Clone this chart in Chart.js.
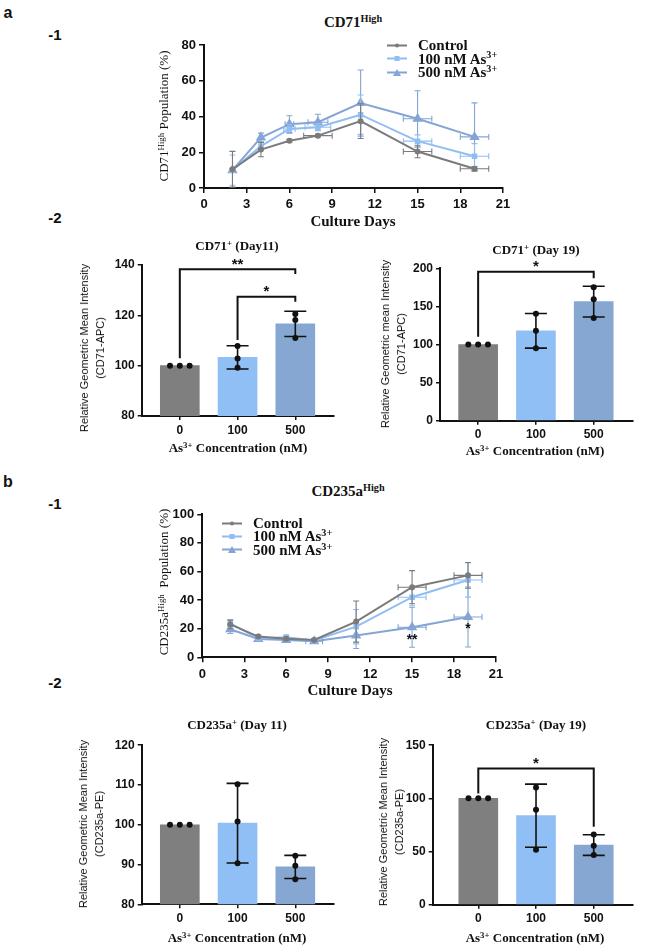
<!DOCTYPE html>
<html>
<head>
<meta charset="utf-8">
<script src="https://cdn.jsdelivr.net/npm/chart.js@4.4.1/dist/chart.umd.min.js"></script>
<style>
  body { margin: 0; background: #fff; }
  #page { position: relative; width: 660px; height: 951px; overflow: hidden; background: #fff; }
  canvas { position: absolute; }
  .t { position: absolute; white-space: nowrap; line-height: 1; transform: translate(-50%, -50%); color: #111; z-index: 2; }
  .serif { font-family: "Liberation Serif", "Times New Roman", serif; }
  .sans { font-family: "Liberation Sans", Arial, sans-serif; }
  .b { font-weight: bold; }
  .rot { transform: translate(-50%, -50%) rotate(-90deg); text-align: center; }
  sup { font-size: 0.68em; vertical-align: 0; position: relative; top: -0.5em; line-height: 0; }
  .legend { position: absolute; font-family: "Liberation Serif", "Times New Roman", serif; font-weight: bold; font-size: 15px; color: #111; z-index: 2; }
  .legend .row { position: absolute; left: 0; white-space: nowrap; transform: translateY(-50%); display: flex; align-items: center; line-height: 1; }
  .legend .sw { position: relative; width: 20px; height: 10px; margin-right: 11px; }
  .legend .ln { position: absolute; left: 0; right: 0; top: 4px; height: 2px; }
  .legend .mk { position: absolute; left: 50%; top: 5px; transform: translate(-50%, -50%); }
</style>
</head>
<body>
<div id="page">
  <canvas id="a1" width="390" height="190" style="left:130px;top:30px"></canvas>
  <canvas id="a2l" width="290" height="200" style="left:60px;top:250px"></canvas>
  <canvas id="a2r" width="290" height="200" style="left:360px;top:250px"></canvas>
  <canvas id="b1" width="390" height="190" style="left:130px;top:500px"></canvas>
  <canvas id="b2l" width="290" height="200" style="left:60px;top:735px"></canvas>
  <canvas id="b2r" width="290" height="200" style="left:360px;top:735px"></canvas>

  <!-- panel labels -->
  <div class="t sans b" style="left:8px;top:13px;font-size:16px">a</div>
  <div class="t sans b" style="left:55px;top:34px;font-size:15px">-1</div>
  <div class="t sans b" style="left:55px;top:217px;font-size:15px">-2</div>
  <div class="t sans b" style="left:8px;top:482px;font-size:16px">b</div>
  <div class="t sans b" style="left:55px;top:503px;font-size:15px">-1</div>
  <div class="t sans b" style="left:55px;top:682px;font-size:15px">-2</div>

  <!-- a-1 -->
  <div class="t serif b" style="left:353px;top:22px;font-size:15px">CD71<sup>High</sup></div>
  <div class="t serif b" style="left:353px;top:221px;font-size:15px">Culture Days</div>
  <div class="t serif rot" style="left:163px;top:116px;font-size:13px">CD71<sup>High</sup> Population (%)</div>
  <div class="legend" id="legA" style="left:387px;top:45px"></div>

  <!-- a-2 -->
  <div class="t serif b" style="left:237px;top:245px;font-size:13px">CD71<sup>+</sup> (Day11)</div>
  <div class="t sans rot" style="left:91.5px;top:348px;font-size:11px;line-height:16px">Relative Geometric Mean Intensity<br>(CD71-APC)</div>
  <div class="t serif b" style="left:238px;top:447px;font-size:13px">As<sup>3+</sup> Concentration (nM)</div>

  <div class="t serif b" style="left:536px;top:249px;font-size:13px">CD71<sup>+</sup> (Day 19)</div>
  <div class="t sans rot" style="left:393px;top:344px;font-size:11px;line-height:16px">Relative Geometric mean Intensity<br>(CD71-APC)</div>
  <div class="t serif b" style="left:535px;top:450px;font-size:13px">As<sup>3+</sup> Concentration (nM)</div>

  <!-- b-1 -->
  <div class="t serif b" style="left:348px;top:491px;font-size:15px">CD235a<sup>High</sup></div>
  <div class="t serif b" style="left:350px;top:690px;font-size:15px">Culture Days</div>
  <div class="t serif rot" style="left:163px;top:582px;font-size:13px">CD235a<sup>High</sup>&nbsp; Population (%)</div>
  <div class="legend" id="legB" style="left:222px;top:523px"></div>

  <!-- b-2 -->
  <div class="t serif b" style="left:237px;top:724px;font-size:13px">CD235a<sup>+</sup> (Day 11)</div>
  <div class="t sans rot" style="left:91px;top:824px;font-size:11px;line-height:16px">Relative Geometric Mean Intensity<br>(CD235a-PE)</div>
  <div class="t serif b" style="left:237px;top:937px;font-size:13px">As<sup>3+</sup> Concentration (nM)</div>

  <div class="t serif b" style="left:536px;top:724px;font-size:13px">CD235a<sup>+</sup> (Day 19)</div>
  <div class="t sans rot" style="left:391px;top:822px;font-size:11px;line-height:16px">Relative Geometric Mean Intensity<br>(CD235a-PE)</div>
  <div class="t serif b" style="left:535px;top:937px;font-size:13px">As<sup>3+</sup> Concentration (nM)</div>
</div>

<script>
// --- Data ---
const days = [2, 4, 6, 8, 11, 15, 19];
const seriesNames = ['Control', '100 nM As3+', '500 nM As3+'];
const seriesColors = ['#7b7b7b', '#90bef3', '#84a5d5'];
const seriesMarkers = ['circle', 'rect', 'triangle'];

// CD71 high population (%)
const cd71Control = [10.5, 21.5, 26.4, 29.3, 37.4, 20.4, 10.8];
const cd71ControlErr = [10, 4, 0.8, 0.8, 9.7, 3.5, 1.2];
const cd71ControlXErr = [0, 0, 0, 1, 0, 1, 1];
const cd71As100 = [10, 23.4, 33, 34, 41, 26.2, 17.8];
const cd71As100Err = [8.5, 2, 2.5, 2, 11, 3.5, 7];
const cd71As100XErr = [0, 0, 0.4, 0.9, 0, 1, 1];
const cd71As500 = [10, 28.2, 35.7, 36.8, 47.5, 38.7, 28.6];
const cd71As500Err = [1, 2.5, 4.7, 4.5, 18.5, 15.7, 19];
const cd71As500XErr = [0, 0, 0.3, 0.7, 0, 1, 1];

// CD235a high population (%)
const cd235Control = [23, 14.5, 13, 12.1, 25, 49, 57.3];
const cd235ControlErr = [3, 1, 1, 1, 14.4, 11.6, 9];
const cd235ControlXErr = [0, 0, 0, 0, 0, 1, 1];
const cd235As100 = [23.8, 13.3, 14, 11.7, 21.4, 42, 54.1];
const cd235As100Err = [2.5, 1, 1.5, 1, 12, 6, 12];
const cd235As100XErr = [0, 0, 0, 0, 0, 1, 1];
const cd235As500 = [19.6, 12.8, 12.1, 11.2, 15.2, 21, 28.2];
const cd235As500Err = [3, 1, 1, 1, 9, 14, 21];
const cd235As500XErr = [0, 0, 0, 0.6, 0, 1, 1];
const cd235Stars = [{ x: 15, y: 15, label: '**' }, { x: 19, y: 22.6, label: '*' }];

// Bar panels: As3+ concentration (nM)
const concLabels = ['0', '100', '500'];
const barColors = ['#7f7f7f', '#8fbff5', '#87a7d3'];

const cd71D11Mean = [100, 103.3, 116.6];
const cd71D11Err = [0, 4.6, 5];
const cd71D11Pts = [[100, 100, 100], [107.8, 102.8, 99.2], [120.5, 118.1, 111]];
const cd71D11Sig = [
  { from: 0, to: 2, y: 138.3, leftEnd: 102.9, rightEnd: 136.4, label: '**' },
  { from: 1, to: 2, y: 127.4, leftEnd: 110.2, rightEnd: 125.4, label: '*' }
];

const cd71D19Mean = [100, 117.9, 156.3];
const cd71D19Err = [0, 22.7, 20.2];
const cd71D19Pts = [[100, 100, 100], [140.5, 118.2, 95], [175, 159.3, 134.8]];
const cd71D19Sig = [{ from: 0, to: 2, y: 195.6, leftEnd: 110.3, rightEnd: 186.9, label: '*' }];

const cd235D11Mean = [100, 100.4, 89.4];
const cd235D11Err = [0, 10, 2.9];
const cd235D11Pts = [[100, 100, 100], [110.2, 100.8, 90.3], [92.2, 89.7, 86.3]];
const cd235D11Sig = [];

const cd235D19Mean = [100, 83.7, 56.1];
const cd235D19Err = [0, 29.7, 9.7];
const cd235D19Pts = [[100, 100, 100], [110.2, 89.2, 51.7], [66.1, 55.4, 46.7]];
const cd235D19Sig = [{ from: 0, to: 2, y: 128, leftEnd: 104.6, rightEnd: 73.3, label: '*' }];

// --- Plugins ---
const errorBars = {
  id: 'errorBars',
  afterDatasetDraw(chart, args) {
    const ds = chart.data.datasets[args.index];
    if (!ds.errY) return;
    const ctx = chart.ctx, xs = chart.scales.x, ys = chart.scales.y;
    const cap = ds.capSize || 3;
    ctx.save();
    ctx.strokeStyle = ds.errColor || ds.borderColor;
    ctx.lineWidth = ds.errWidth || 1;
    ds.data.forEach((p, i) => {
      const px = xs.getPixelForValue(p.x), py = ys.getPixelForValue(p.y);
      const ey = ds.errY[i] || 0;
      const ex = ds.errX ? (ds.errX[i] || 0) : 0;
      ctx.beginPath();
      if (ey > 0) {
        const y1 = ys.getPixelForValue(p.y + ey), y2 = ys.getPixelForValue(p.y - ey);
        ctx.moveTo(px, y1); ctx.lineTo(px, y2);
        ctx.moveTo(px - cap, y1); ctx.lineTo(px + cap, y1);
        ctx.moveTo(px - cap, y2); ctx.lineTo(px + cap, y2);
      }
      if (ex > 0) {
        const x1 = xs.getPixelForValue(p.x - ex), x2 = xs.getPixelForValue(p.x + ex);
        ctx.moveTo(x1, py); ctx.lineTo(x2, py);
        ctx.moveTo(x1, py - cap); ctx.lineTo(x1, py + cap);
        ctx.moveTo(x2, py - cap); ctx.lineTo(x2, py + cap);
      }
      ctx.stroke();
    });
    ctx.restore();
  }
};
Chart.register(errorBars);

function bracketPlugin(items) {
  return {
    id: 'brackets',
    afterDraw(chart) {
      const ctx = chart.ctx, xs = chart.scales.x, ys = chart.scales.y;
      ctx.save();
      ctx.strokeStyle = '#111';
      ctx.fillStyle = '#111';
      ctx.lineWidth = 2;
      ctx.font = 'bold 15px "Liberation Sans", Arial, sans-serif';
      ctx.textAlign = 'center';
      items.forEach(b => {
        const x1 = xs.getPixelForValue(b.from), x2 = xs.getPixelForValue(b.to);
        const y = ys.getPixelForValue(b.y);
        ctx.beginPath();
        ctx.moveTo(x1, ys.getPixelForValue(b.leftEnd));
        ctx.lineTo(x1, y);
        ctx.lineTo(x2, y);
        ctx.lineTo(x2, ys.getPixelForValue(b.rightEnd));
        ctx.stroke();
        ctx.fillText(b.label, (x1 + x2) / 2, y - 0.5);
      });
      ctx.restore();
    }
  };
}

function starPlugin(items) {
  return {
    id: 'stars',
    afterDraw(chart) {
      const ctx = chart.ctx, xs = chart.scales.x, ys = chart.scales.y;
      ctx.save();
      ctx.fillStyle = '#111';
      ctx.font = 'bold 14px "Liberation Sans", Arial, sans-serif';
      ctx.textAlign = 'center';
      items.forEach(s => {
        ctx.fillText(s.label, xs.getPixelForValue(s.x), ys.getPixelForValue(s.y) + 8);
      });
      ctx.restore();
    }
  };
}

// --- Common axis styling ---
const tickFont = (size) => ({ family: '"Liberation Sans", Arial, sans-serif', weight: 'bold', size: size });
function axisStyle(size, tickLen) {
  return {
    offset: false,
    grid: { display: true, offset: false, drawOnChartArea: false, drawTicks: true, tickLength: tickLen, color: '#111', lineWidth: 1.5 },
    border: { display: true, color: '#111', width: 2 },
    ticks: { font: tickFont(size), color: '#111', maxRotation: 0, padding: 3 }
  };
}

function lineChart(id, yMax, series, stars, geom) {
  const datasets = series.map((s, k) => ({
    label: seriesNames[k],
    data: days.map((d, i) => ({ x: d, y: s.mean[i] })),
    errY: s.err,
    errX: s.xerr,
    capSize: 3,
    errWidth: 1.1,
    borderColor: seriesColors[k],
    backgroundColor: seriesColors[k],
    borderWidth: 2,
    pointStyle: seriesMarkers[k],
    pointRadius: [2, 2.5, 4][k],
    tension: 0
  }));
  const xs = axisStyle(13, 5), ys = axisStyle(13, 5);
  xs.ticks.padding = 4;
  xs.ticks.stepSize = 3;
  ys.ticks.stepSize = 20;
  new Chart(document.getElementById(id), {
    type: 'line',
    data: { datasets },
    options: {
      responsive: false,
      animation: false,
      events: [],
      layout: { padding: geom.pad },
      plugins: { legend: { display: false }, tooltip: { enabled: false } },
      scales: {
        x: Object.assign(xs, { type: 'linear', min: 0, max: 21, afterFit: s => { s.height = geom.xh; } }),
        y: Object.assign(ys, { min: 0, max: yMax, afterFit: s => { s.width = geom.yw; } })
      }
    },
    plugins: [starPlugin(stars)]
  });
}

function barChart(id, yMin, yMax, step, means, errs, pts, sig, geom) {
  const bars = means.map((m, i) => ({ x: i, y: m }));
  const dots = [];
  pts.forEach((group, i) => {
    group.forEach((v, k) => {
      const same = group.filter(u => u === v).length;
      const idx = group.slice(0, k).filter(u => u === v).length;
      const off = same > 1 ? (idx - (same - 1) / 2) * 0.17 : 0;
      dots.push({ x: i + off, y: v });
    });
  });
  const xs = axisStyle(12, 4), ys = axisStyle(12, 4);
  xs.ticks.callback = v => concLabels[v];
  ys.ticks.stepSize = step;
  new Chart(document.getElementById(id), {
    type: 'bar',
    data: {
      datasets: [
        { type: 'bar', data: bars, backgroundColor: barColors, barThickness: 39,
          errY: errs, errColor: '#111', errWidth: 1.6, capSize: 11, order: 2 },
        { type: 'scatter', data: dots, pointRadius: 3, backgroundColor: '#111', borderWidth: 0, order: 1 }
      ]
    },
    options: {
      responsive: false,
      animation: false,
      events: [],
      layout: { padding: geom.pad },
      plugins: { legend: { display: false }, tooltip: { enabled: false } },
      scales: {
        x: Object.assign(xs, {
          type: 'linear', min: geom.xMin, max: geom.xMax,
          afterBuildTicks: s => { s.ticks = concLabels.map((_, i) => ({ value: i })); },
          afterFit: s => { s.height = geom.xh; }
        }),
        y: Object.assign(ys, { min: yMin, max: yMax, afterFit: s => { s.width = geom.yw; } })
      }
    },
    plugins: [bracketPlugin(sig)]
  });
}

// --- Legends ---
function buildLegend(elId, rowGap) {
  const el = document.getElementById(elId);
  seriesNames.forEach((name, k) => {
    const row = document.createElement('div');
    row.className = 'row';
    row.style.top = (k * rowGap) + 'px';
    const c = seriesColors[k];
    let mk;
    if (seriesMarkers[k] === 'circle') mk = `<span class="mk" style="width:4px;height:4px;border-radius:50%;background:${c}"></span>`;
    else if (seriesMarkers[k] === 'rect') mk = `<span class="mk" style="width:5px;height:5px;background:${c}"></span>`;
    else mk = `<span class="mk" style="width:0;height:0;border-left:4px solid transparent;border-right:4px solid transparent;border-bottom:7px solid ${c}"></span>`;
    row.innerHTML = `<span class="sw"><span class="ln" style="background:${c}"></span>${mk}</span>` +
      `<span>${name.replace('As3+', 'As<sup>3+</sup>')}</span>`;
    el.appendChild(row);
  });
}
buildLegend('legA', 13.5);
buildLegend('legB', 13.4);

// --- Charts ---
lineChart('a1', 80, [
  { mean: cd71Control, err: cd71ControlErr, xerr: cd71ControlXErr },
  { mean: cd71As100, err: cd71As100Err, xerr: cd71As100XErr },
  { mean: cd71As500, err: cd71As500Err, xerr: cd71As500XErr }
], [], { yw: 74, xh: 32, pad: { top: 15, right: 17, left: 0, bottom: 0 } });

lineChart('b1', 100, [
  { mean: cd235Control, err: cd235ControlErr, xerr: cd235ControlXErr },
  { mean: cd235As100, err: cd235As100Err, xerr: cd235As100XErr },
  { mean: cd235As500, err: cd235As500Err, xerr: cd235As500XErr }
], cd235Stars, { yw: 72.3, xh: 32.7, pad: { top: 14.3, right: 24, left: 0, bottom: 0 } });

barChart('a2l', 80, 140, 20, cd71D11Mean, cd71D11Err, cd71D11Pts, cd71D11Sig,
  { yw: 81.7, xh: 34, xMin: -0.66, xMax: 2.67, pad: { top: 15, right: 16, left: 0, bottom: 0 } });
barChart('a2r', 0, 200, 50, cd71D19Mean, cd71D19Err, cd71D19Pts, cd71D19Sig,
  { yw: 80, xh: 29.3, xMin: -0.66, xMax: 2.68, pad: { top: 18.3, right: 17, left: 0, bottom: 0 } });
barChart('b2l', 80, 120, 10, cd235D11Mean, cd235D11Err, cd235D11Pts, cd235D11Sig,
  { yw: 81.7, xh: 30.7, xMin: -0.66, xMax: 2.67, pad: { top: 9.3, right: 16, left: 0, bottom: 0 } });
barChart('b2r', 0, 150, 50, cd235D19Mean, cd235D19Err, cd235D19Pts, cd235D19Sig,
  { yw: 72.7, xh: 30.3, xMin: -0.79, xMax: 2.68, pad: { top: 10, right: 17, left: 0, bottom: 0 } });
</script>
</body>
</html>
